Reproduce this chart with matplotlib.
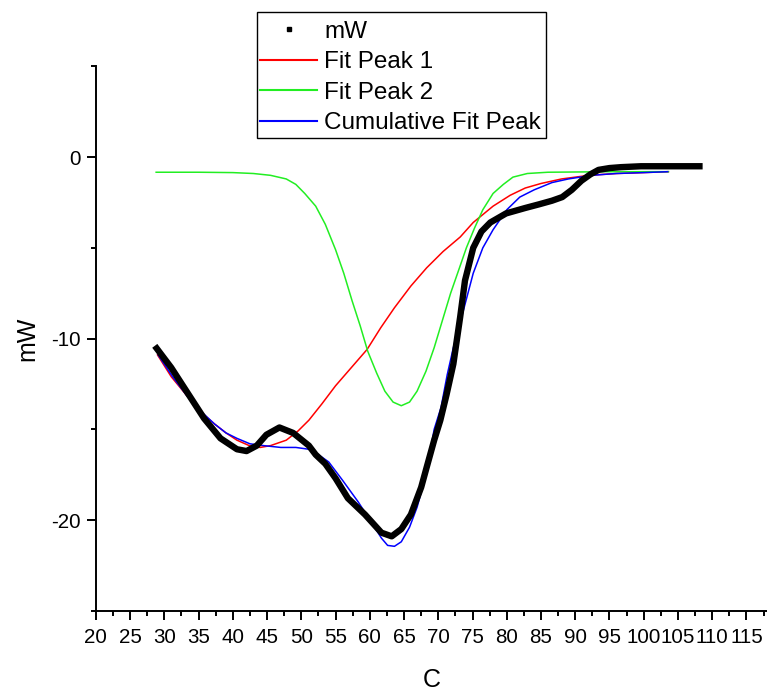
import matplotlib
matplotlib.use("Agg")
import matplotlib.pyplot as plt
from matplotlib.ticker import MultipleLocator
from matplotlib.lines import Line2D
from matplotlib.patches import Rectangle

plt.rcParams['font.family'] = ['Liberation Sans', 'DejaVu Sans']
plt.rcParams['axes.unicode_minus'] = False

# ---- data ----
mw_x = [28.6, 31.0, 33.4, 35.8, 38.2, 40.6, 42.0, 43.5, 44.9, 46.8, 48.8, 51.1, 52.1,
        53.5, 55.0, 56.8, 59.3, 61.7, 63.2, 64.6, 66.0, 67.5, 68.3, 69.4, 70.3, 71.2,
        72.2, 73.2, 73.9, 75.1, 76.3, 77.6, 79.9, 82.7, 84.7, 86.6, 88.1, 89.5, 90.9,
        92.2, 93.4, 95.0, 96.7, 99.6, 108.6]
mw_y = [-10.4, -11.6, -13.0, -14.4, -15.5, -16.1, -16.2, -15.9, -15.3, -14.9, -15.2, -15.9, -16.4,
        -16.9, -17.7, -18.8, -19.7, -20.7, -20.9, -20.5, -19.7, -18.2, -17.1, -15.6, -14.5, -13.1,
        -11.4, -8.8, -6.8, -5.0, -4.1, -3.6, -3.1, -2.8, -2.6, -2.4, -2.2, -1.8, -1.3,
        -0.95, -0.7, -0.6, -0.55, -0.5, -0.5]

p1_x = [29.0, 31.0, 33.4, 35.5, 37.3, 39.0, 40.6, 42.4, 44.0, 45.5, 47.8, 49.5, 51.1, 53.0,
        55.0, 57.3, 59.6, 61.6, 63.6, 66.0, 68.3, 70.7, 73.2, 75.1, 78.0, 80.5, 82.7, 85.0,
        88.0, 92.0, 96.0, 103.6]
p1_y = [-10.9, -12.1, -13.2, -14.1, -14.7, -15.2, -15.6, -15.9, -16.0, -15.9, -15.6, -15.1, -14.5, -13.6,
        -12.6, -11.6, -10.6, -9.4, -8.3, -7.1, -6.1, -5.2, -4.4, -3.6, -2.7, -2.1, -1.7, -1.45,
        -1.2, -1.0, -0.9, -0.8]

p2_x = [28.8, 35.0, 40.0, 43.0, 45.5, 47.8, 49.2, 50.5, 52.1, 53.5, 55.0, 56.2, 57.4, 58.6,
        59.7, 61.0, 62.2, 63.4, 64.6, 65.8, 66.9, 68.2, 69.4, 70.6, 71.8, 73.0, 74.1, 75.3,
        76.5, 78.0, 79.5, 80.9, 83.0, 86.0, 95.0, 103.6]
p2_y = [-0.83, -0.83, -0.85, -0.9, -1.0, -1.2, -1.5, -2.0, -2.7, -3.7, -5.1, -6.4, -7.9, -9.3,
        -10.7, -11.9, -12.9, -13.5, -13.7, -13.5, -12.9, -11.8, -10.5, -9.0, -7.5, -6.2, -5.0, -3.9,
        -2.9, -2.0, -1.5, -1.1, -0.9, -0.83, -0.8, -0.8]

cum_x = [29.1, 31.2, 33.4, 35.3, 37.3, 39.0, 40.6, 42.5, 44.5, 47.0, 49.2, 51.1, 52.5, 54.0,
         56.0, 58.3, 60.7, 61.7, 62.6, 63.6, 64.6, 65.8, 66.9, 67.7, 68.5, 69.4, 70.4, 71.3,
         72.2, 73.7, 75.1, 76.5, 78.0, 80.0, 81.9, 84.0, 86.6, 89.0, 92.4, 96.0, 100.0, 103.5]
cum_y = [-10.9, -12.1, -13.2, -14.0, -14.7, -15.2, -15.5, -15.8, -15.9, -16.0, -16.0, -16.1, -16.4, -16.8,
         -17.8, -19.0, -20.4, -21.0, -21.4, -21.45, -21.2, -20.4, -19.3, -18.2, -16.9, -15.0, -13.8, -12.0,
         -10.5, -8.4, -6.4, -5.0, -4.0, -2.9, -2.2, -1.8, -1.4, -1.2, -1.0, -0.9, -0.85, -0.8]

labels = ['mW', 'Fit Peak 1', 'Fit Peak 2', 'Cumulative Fit Peak']
colors = ['black', '#ff0000', '#22ee22', '#0000ff']

W, H = 767, 691
fig = plt.figure(figsize=(W / 100, H / 100), dpi=100)
ax = fig.add_axes([0.125, 0.1162, 0.875, 0.7876])

ax.plot(p1_x, p1_y, color=colors[1], lw=1.1, zorder=3)
ax.plot(p2_x, p2_y, color=colors[2], lw=1.1, zorder=3)
ax.plot(cum_x, cum_y, color=colors[3], lw=1.1, zorder=4)
ax.plot(mw_x, mw_y, color=colors[0], lw=4.6, solid_capstyle='butt',
        solid_joinstyle='round', zorder=5)

ax.set_xlim(20, 118)
ax.set_ylim(-25, 5)
ax.xaxis.set_major_locator(MultipleLocator(5))
ax.xaxis.set_minor_locator(MultipleLocator(2.5))
ax.yaxis.set_major_locator(MultipleLocator(10))
ax.yaxis.set_minor_locator(MultipleLocator(5))

for s in ['top', 'right']:
    ax.spines[s].set_visible(False)
for s in ['left', 'bottom']:
    ax.spines[s].set_linewidth(1.4)

ax.tick_params(which='major', direction='out', length=6.8, width=1.4, labelsize=14.8, pad=5.5)
ax.tick_params(axis='y', which='major', pad=4.3)
ax.tick_params(which='minor', direction='out', length=3.6, width=1.4)

ax.set_xlabel('C', fontsize=18, labelpad=15)
ax.set_ylabel('mW', fontsize=18, labelpad=8)

handles = [Line2D([], [], color='black', marker='s', ms=2.5, ls='none'),
           Line2D([], [], color=colors[1], lw=1.5),
           Line2D([], [], color=colors[2], lw=1.5),
           Line2D([], [], color=colors[3], lw=1.5)]
leg = fig.legend(handles, labels, loc='upper left',
                 bbox_to_anchor=(260 / W, 1 - 20.5 / H),
                 bbox_transform=fig.transFigure, borderaxespad=0, fontsize=17.5,
                 frameon=False, handlelength=2.35, handletextpad=0.3,
                 labelspacing=0.35, borderpad=0.0)

fig.patches.append(Rectangle((257.3 / W, 1 - 138.3 / H), (546 - 257.3) / W, (138.3 - 12.3) / H,
                             transform=fig.transFigure, fill=False, ec='black', lw=1.0))

fig.savefig('out.png', dpi=100)
